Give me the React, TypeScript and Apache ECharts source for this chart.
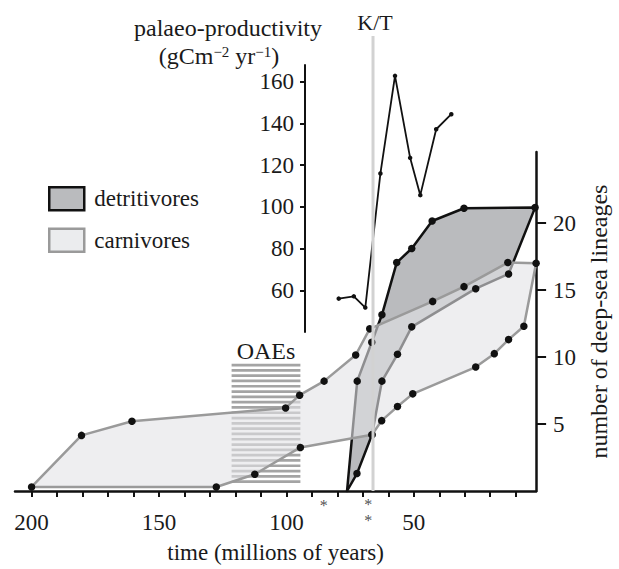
import React, { useEffect, useRef } from "react";
import * as echarts from "echarts";

const FONT = "'Liberation Serif', 'Times New Roman', serif";
const INK = "#1a1a1a";

// ---- data (time in millions of years, lineage counts, productivity) ----
const carnivoreTime = [200, 180.4, 160.6, 100.3, 94.8, 85.2, 72.8, 67.3, 42.6, 30.3, 13.1, 2.0, 6.8, 12.8, 18.4, 25.7, 50.4, 56.4, 62.6, 66.4, 94.5, 112.4, 127.5];
const carnivoreLineages = [0.3, 4.15, 5.2, 6.2, 7.15, 8.2, 10.15, 12.1, 14.15, 15.25, 17.05, 17.0, 12.3, 11.3, 10.25, 9.25, 7.25, 6.3, 5.25, 4.2, 3.25, 1.25, 0.3];
const detritivoreTime = [76.2, 72.2, 66.5, 62.5, 56.7, 50.8, 42.8, 30.3, 2.4, 12.8, 25.7, 50.8, 56.4, 62.5, 66.4, 72.3];
const detritivoreLineages = [0, 8.2, 11.1, 13.15, 17.05, 18.1, 20.15, 21.1, 21.15, 16.2, 15.1, 12.25, 10.2, 8.2, 4.2, 1.3];
const productivityTime = [82.3, 76.5, 72.1, 66.3, 60.7, 54.9, 51.0, 44.9, 39.1];
const productivityValue = [56, 57.1, 51.7, 116, 162.8, 123.5, 105.6, 137.2, 144.4];
const oaeTime = [121.5, 94.5];
const oaeLineages = [0.3, 9.5];
const ktBoundary = 66;
const asteriskTime = [85.3, 67.9];
const asteriskCount = [1, 2];
const asteriskLevel = [-1.1, -1.6];
const timeTicks = [10, 20, 30, 40, 50, 60, 70, 80, 90, 100, 110, 120, 130, 140, 150, 160, 170, 180, 190, 200];
const timeLabels = [50, 100, 150, 200];
const lineageTicks = [5, 10, 15, 20];
const productivityTicks = [60, 80, 100, 120, 140, 160];

// ---- layout ----
const W = 619;
const H = 569;
const G_LEFT = 15;
const G_RIGHT = 71;
const G_TOP = 152;
const G_BOTTOM = 68;
const T_MIN = 2;
const T_MAX = 206.5;
const INSET_LEFT = 305;
const INSET_TOP = 65;
const INSET_BOTTOM = 237;
const pxPerMa = (W - G_RIGHT - G_LEFT) / (T_MAX - T_MIN);
const INSET_T_MAX = T_MIN + (W - G_RIGHT - INSET_LEFT) / pxPerMa;
const KT_TOP = 36;
const FS = 23;

function polygonSeries(name: string, times: number[], values: number[], fill: string, stroke: string, z: number) {
  return {
    type: "custom",
    name,
    xAxisIndex: 0,
    yAxisIndex: 0,
    z,
    data: times.map((t, i) => [t, values[i]]),
    encode: { x: 0, y: 1 },
    renderItem: (params: any, api: any) => {
      if (params.dataIndex !== 0) return null;
      const pts = times.map((t, i) => api.coord([t, values[i]]));
      return {
        type: "polygon",
        shape: { points: pts },
        style: { fill, stroke, lineWidth: 2.5, lineJoin: "round" },
      };
    },
  };
}

const dotData = [
  ...carnivoreTime.map((t, i) => [t, carnivoreLineages[i]]),
  // the lowest detritivore vertex carries no dot
  ...detritivoreTime.slice(1).map((t, i) => [t, detritivoreLineages[i + 1]]),
];

const option: any = {
  animation: false,
  backgroundColor: "#ffffff",
  textStyle: { fontFamily: FONT },
  grid: [
    { left: G_LEFT, right: G_RIGHT, top: G_TOP, bottom: G_BOTTOM },
    { left: INSET_LEFT, right: G_RIGHT, top: INSET_TOP, bottom: INSET_BOTTOM },
  ],
  legend: {
    orient: "vertical",
    left: 43,
    top: 181,
    itemWidth: 35,
    itemHeight: 23,
    itemGap: 16,
    icon: "rect",
    selectedMode: false,
    textStyle: { fontFamily: FONT, fontSize: FS, color: INK, padding: [0, 0, 0, 5] },
    data: [
      { name: "detritivores", itemStyle: { color: "#babbbe", borderColor: "#111", borderWidth: 2.5 } },
      { name: "carnivores", itemStyle: { color: "#ebecee", borderColor: "#9a9a9a", borderWidth: 2.5 } },
    ],
  },
  xAxis: [
    {
      gridIndex: 0,
      type: "value",
      inverse: true,
      min: T_MIN,
      max: T_MAX,
      axisLine: { show: true, onZero: false, lineStyle: { color: "#111", width: 2.5 } },
      axisTick: { show: true, customValues: timeTicks, length: 6, lineStyle: { color: "#111", width: 2 } },
      axisLabel: { customValues: timeLabels, margin: 20, fontFamily: FONT, fontSize: FS, color: INK },
      splitLine: { show: false },
      name: "time (millions of years)",
      nameLocation: "middle",
      nameGap: 50,
      nameTextStyle: { fontFamily: FONT, fontSize: FS, color: INK },
    },
    {
      gridIndex: 1,
      type: "value",
      inverse: true,
      min: T_MIN,
      max: INSET_T_MAX,
      show: false,
    },
  ],
  yAxis: [
    {
      gridIndex: 0,
      type: "value",
      position: "right",
      min: 0,
      max: 25.3,
      axisLine: { show: true, lineStyle: { color: "#111", width: 2.5 } },
      axisTick: { show: true, customValues: lineageTicks, length: 10, lineStyle: { color: "#111", width: 2 } },
      axisLabel: { customValues: lineageTicks, margin: 17, fontFamily: FONT, fontSize: FS, color: INK },
      splitLine: { show: false },
      name: "number of deep-sea lineages",
      nameLocation: "middle",
      nameRotate: 90,
      nameGap: 45,
      nameTextStyle: { fontFamily: FONT, fontSize: 24, color: INK },
    },
    {
      gridIndex: 1,
      type: "value",
      position: "left",
      min: 40,
      max: 168,
      axisLine: { show: true, lineStyle: { color: "#111", width: 2 } },
      axisTick: { show: true, customValues: productivityTicks, length: 5, lineStyle: { color: "#111", width: 2 } },
      axisLabel: { customValues: productivityTicks, margin: 11, fontFamily: FONT, fontSize: FS, color: INK },
      splitLine: { show: false },
    },
  ],
  graphic: [
    {
      type: "text",
      x: 228,
      y: 40,
      style: { text: "palaeo-productivity", font: `24px ${FONT}`, fill: INK, align: "center", verticalAlign: "bottom" },
    },
    {
      type: "text",
      x: 219,
      y: 68,
      style: {
        text: "(gCm{s|−2} yr{s|−1})",
        font: `24px ${FONT}`,
        fill: INK,
        align: "center",
        verticalAlign: "bottom",
        lineHeight: 24,
        rich: { s: { fontSize: 15, fontFamily: FONT, fill: INK, verticalAlign: "top", lineHeight: 15 } },
      },
    },
  ],
  series: [
    {
      type: "custom",
      name: "OAEs",
      xAxisIndex: 0,
      yAxisIndex: 0,
      z: 1,
      data: [[oaeTime[0], oaeLineages[0], oaeTime[1], oaeLineages[1]]],
      renderItem: (params: any, api: any) => {
        const tl = api.coord([oaeTime[0], oaeLineages[1]]);
        const br = api.coord([oaeTime[1], oaeLineages[0]]);
        const children: any[] = [];
        const pitch = 5.3;
        const thick = 2.7;
        for (let y = tl[1]; y + thick <= br[1] + 0.5; y += pitch) {
          children.push({
            type: "rect",
            shape: { x: tl[0], y, width: br[0] - tl[0], height: thick },
            style: { fill: "#a4a4a4" },
          });
        }
        children.push({
          type: "text",
          x: (tl[0] + br[0]) / 2,
          y: tl[1] - 1,
          style: { text: "OAEs", font: `24px ${FONT}`, fill: INK, align: "center", verticalAlign: "bottom" },
        });
        return { type: "group", children };
      },
    },
    polygonSeries("detritivores", detritivoreTime, detritivoreLineages, "#babbbe", "#111111", 2),
    polygonSeries("carnivores", carnivoreTime, carnivoreLineages, "rgba(226,227,230,0.6)", "#9a9a9a", 3),
    {
      type: "scatter",
      xAxisIndex: 0,
      yAxisIndex: 0,
      z: 4,
      symbol: "circle",
      symbolSize: 7.5,
      itemStyle: { color: "#111", opacity: 1 },
      data: dotData,
    },
    {
      type: "line",
      xAxisIndex: 1,
      yAxisIndex: 1,
      z: 5,
      data: productivityTime.map((t, i) => [t, productivityValue[i]]),
      symbol: "circle",
      symbolSize: 4.5,
      showSymbol: true,
      lineStyle: { color: "#111", width: 1.8 },
      itemStyle: { color: "#111" },
    },
    {
      type: "scatter",
      xAxisIndex: 0,
      yAxisIndex: 0,
      z: 5,
      clip: false,
      symbolSize: 1,
      itemStyle: { color: "rgba(0,0,0,0)" },
      label: {
        show: true,
        position: "inside",
        formatter: (p: any) => Array(asteriskCount[p.dataIndex]).fill("*").join("\n"),
        fontFamily: FONT,
        fontSize: 16,
        lineHeight: 16,
        color: "#1a1a1a",
        textBorderWidth: 0,
      },
      data: asteriskTime.map((t, i) => [t, asteriskLevel[i]]),
    },
    {
      type: "custom",
      name: "K/T",
      xAxisIndex: 0,
      yAxisIndex: 0,
      z: 6,
      data: [[ktBoundary, 0]],
      renderItem: (params: any, api: any) => {
        const base = api.coord([ktBoundary, 0]);
        return {
          type: "group",
          children: [
            {
              type: "line",
              shape: { x1: base[0], y1: base[1], x2: base[0], y2: KT_TOP },
              style: { stroke: "#d2d2d2", lineWidth: 3 },
            },
            {
              type: "text",
              x: base[0] + 2,
              y: KT_TOP - 3,
              style: { text: "K/T", font: `22px ${FONT}`, fill: INK, align: "center", verticalAlign: "bottom" },
            },
          ],
        };
      },
    },
  ],
};

export default function App() {
  const ref = useRef<HTMLDivElement>(null);
  useEffect(() => {
    document.body.style.margin = "0";
    const chart = echarts.init(ref.current!, null, { renderer: "svg" });
    chart.setOption(option);
    return () => chart.dispose();
  }, []);
  return <div ref={ref} style={{ position: "absolute", left: 0, top: 0, width: W, height: H }} />;
}
